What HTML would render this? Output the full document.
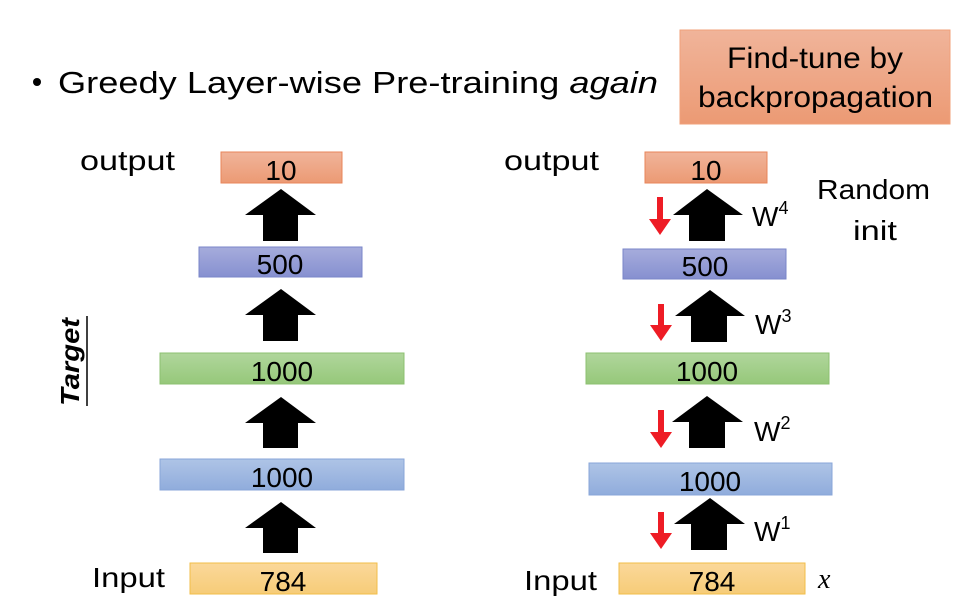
<!DOCTYPE html>
<html><head><meta charset="utf-8"><style>
body{margin:0;background:#fff;}
svg{display:block;font-family:"Liberation Sans",sans-serif;}
</style></head><body>
<svg width="974" height="612" viewBox="0 0 974 612" xmlns="http://www.w3.org/2000/svg">
<defs>
<linearGradient id="o" x1="0" y1="0" x2="0" y2="1"><stop offset="0" stop-color="#f0b49a"/><stop offset="1" stop-color="#ec9a74"/></linearGradient>
<linearGradient id="p" x1="0" y1="0" x2="0" y2="1"><stop offset="0" stop-color="#a6acdc"/><stop offset="1" stop-color="#8690d0"/></linearGradient>
<linearGradient id="g" x1="0" y1="0" x2="0" y2="1"><stop offset="0" stop-color="#b0d69c"/><stop offset="1" stop-color="#96c87a"/></linearGradient>
<linearGradient id="b" x1="0" y1="0" x2="0" y2="1"><stop offset="0" stop-color="#aec4e6"/><stop offset="1" stop-color="#90acdc"/></linearGradient>
<linearGradient id="y" x1="0" y1="0" x2="0" y2="1"><stop offset="0" stop-color="#fbd89a"/><stop offset="1" stop-color="#f6cc78"/></linearGradient>
</defs>
<circle cx="37" cy="82" r="4" fill="#000"/>
<text x="58" y="93" font-size="31" textLength="600" lengthAdjust="spacingAndGlyphs">Greedy Layer-wise Pre-training <tspan font-style="italic">again</tspan></text>
<rect x="680" y="30" width="270" height="94" fill="url(#o)" stroke="#f0a07a"/>
<text x="727" y="68" font-size="30" textLength="176" lengthAdjust="spacingAndGlyphs">Find-tune by</text>
<text x="698" y="107" font-size="30" textLength="235" lengthAdjust="spacingAndGlyphs">backpropagation</text>

<!-- left column -->
<g font-size="28" text-anchor="middle">
<rect x="221" y="152" width="121" height="31" fill="url(#o)" stroke="#e8855a"/><text x="281" y="180">10</text>
<rect x="199" y="247" width="163" height="30" fill="url(#p)" stroke="#7a86c8"/><text x="280" y="274">500</text>
<rect x="160" y="353" width="244" height="31" fill="url(#g)" stroke="#8cc070"/><text x="282" y="381">1000</text>
<rect x="160" y="459" width="244" height="31" fill="url(#b)" stroke="#88a6d8"/><text x="282" y="487">1000</text>
<rect x="190" y="563" width="187" height="31" fill="url(#y)" stroke="#f2be48"/><text x="283" y="591">784</text>
</g>
<g fill="#000">
<polygon points="281,189 316,215 298,215 298,241 263,241 263,215 245,215"/>
<polygon points="281,289 316,315 298,315 298,341 263,341 263,315 245,315"/>
<polygon points="281,397 316,423 298,423 298,448 263,448 263,423 245,423"/>
<polygon points="281,502 316,528 298,528 298,553 263,553 263,528 245,528"/>
</g>
<text x="80" y="170" font-size="28" textLength="95" lengthAdjust="spacingAndGlyphs">output</text>
<text x="92" y="587" font-size="28" textLength="73" lengthAdjust="spacingAndGlyphs">Input</text>
<text transform="translate(79,406) rotate(-90)" font-size="26" font-weight="bold" font-style="italic" textLength="88" lengthAdjust="spacingAndGlyphs">Target</text>
<line x1="87" y1="316" x2="87" y2="406" stroke="#000" stroke-width="1.5"/>

<!-- right column -->
<g font-size="28" text-anchor="middle">
<rect x="645" y="152" width="122" height="31" fill="url(#o)" stroke="#e8855a"/><text x="706" y="180">10</text>
<rect x="623" y="249" width="163" height="30" fill="url(#p)" stroke="#7a86c8"/><text x="705" y="276">500</text>
<rect x="586" y="353" width="243" height="31" fill="url(#g)" stroke="#8cc070"/><text x="707" y="381">1000</text>
<rect x="589" y="463" width="243" height="32" fill="url(#b)" stroke="#88a6d8"/><text x="710" y="491">1000</text>
<rect x="619" y="563" width="186" height="31" fill="url(#y)" stroke="#f2be48"/><text x="712" y="591">784</text>
</g>
<g fill="#000">
<polygon points="707,189 743,215 725,215 725,241 689,241 689,215 673,215"/>
<polygon points="710,290 745,316 727,316 727,342 691,342 691,316 675,316"/>
<polygon points="707,396 743,422 725,422 725,448 689,448 689,422 672,422"/>
<polygon points="710,498 745,524 727,524 727,550 691,550 691,524 674,524"/>
</g>
<g fill="#ee1c25">
<polygon points="657,197 663,197 663,219 671,219 660,235 649,219 657,219"/>
<polygon points="658,304 664,304 664,325 672,325 661,341 650,325 658,325"/>
<polygon points="658,410 664,410 664,432 672,432 661,448 650,432 658,432"/>
<polygon points="658,512 664,512 664,533 672,533 661,549 650,533 658,533"/>
</g>
<g font-size="28">
<text x="752" y="226">W<tspan font-size="18" dy="-12">4</tspan></text>
<text x="755" y="334">W<tspan font-size="18" dy="-12">3</tspan></text>
<text x="754" y="441">W<tspan font-size="18" dy="-12">2</tspan></text>
<text x="754" y="541">W<tspan font-size="18" dy="-12">1</tspan></text>
</g>
<text x="817" y="199" font-size="28" textLength="113" lengthAdjust="spacingAndGlyphs">Random</text>
<text x="853" y="240" font-size="28" textLength="44" lengthAdjust="spacingAndGlyphs">init</text>
<text x="504" y="170" font-size="28" textLength="95" lengthAdjust="spacingAndGlyphs">output</text>
<text x="524" y="590" font-size="28" textLength="73" lengthAdjust="spacingAndGlyphs">Input</text>
<text x="818" y="588" font-size="28" font-style="italic" font-family="Liberation Serif,serif">x</text>
</svg>
</body></html>
